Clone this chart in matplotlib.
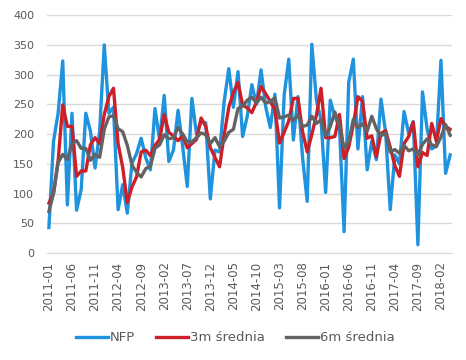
import matplotlib
matplotlib.use("Agg")
import matplotlib.pyplot as plt
import pandas as pd

# Monthly data 2011-01 .. 2018-04 (thousands)
months = pd.period_range("2011-01", "2018-04", freq="M").strftime("%Y-%m").tolist()

nfp = [43, 188, 235, 323, 81, 235, 72, 107, 235, 205, 143, 205,
       350, 235, 245, 73, 115, 67, 151, 167, 193, 160, 140, 243,
       190, 265, 154, 173, 240, 179, 112, 260, 200, 221, 219, 91,
       173, 170, 255, 310, 245, 305, 196, 230, 283, 250, 308, 246,
       211, 267, 76, 265, 326, 190, 263, 160, 87, 351, 257, 224,
       102, 257, 229, 212, 36, 287, 326, 175, 263, 140, 188, 157,
       259, 203, 73, 165, 150, 238, 201, 221, 14, 271, 208, 175,
       180, 324, 134, 165]

avg3 = [84, 101, 155, 249, 213, 213, 129, 138, 138, 182, 194, 184,
        233, 263, 277, 184, 144, 85, 111, 128, 170, 173, 164, 181,
        191, 233, 203, 197, 189, 197, 177, 184, 191, 227, 213, 177,
        161, 145, 199, 245, 270, 287, 249, 244, 236, 254, 280, 268,
        255, 241, 185, 203, 222, 260, 260, 204, 170, 199, 232, 277,
        194, 194, 196, 233, 159, 178, 216, 263, 255, 193, 197, 162,
        201, 206, 178, 147, 129, 184, 196, 220, 145, 169, 164, 218,
        188, 226, 213, 208]

avg6 = [70, 100, 152, 166, 157, 184, 189, 176, 176, 156, 166, 161,
        208, 229, 231, 209, 204, 181, 148, 136, 128, 142, 146, 176,
        182, 199, 192, 194, 211, 200, 187, 187, 194, 202, 199, 184,
        194, 179, 188, 203, 208, 243, 247, 257, 262, 252, 262, 252,
        255, 261, 227, 229, 232, 223, 232, 213, 215, 230, 218, 224,
        197, 213, 237, 214, 177, 187, 225, 211, 217, 205, 230, 209,
        197, 202, 170, 174, 168, 181, 172, 175, 165, 183, 192, 182,
        179, 195, 216, 198]

series_names = ["NFP", "3m średnia", "6m średnia"]
colors = ["#1F93DE", "#CC1F27", "#636363"]
yticks = [0, 50, 100, 150, 200, 250, 300, 350, 400]

fig = plt.figure(figsize=(4.66, 3.60), dpi=100)
ax = fig.add_axes([0.100, 0.297, 0.871, 0.661])

x = list(range(len(months)))
for vals, name, c in zip([nfp, avg3, avg6], series_names, colors):
    ax.plot(x, vals, color=c, lw=2.4, label=name, solid_joinstyle="round")

ax.set_xlim(-0.5, len(months) - 0.5)
ax.set_ylim(0, 400)
ax.set_yticks(yticks)
ax.set_yticklabels([str(v) for v in yticks])
tick_pos = x[::5]
ax.set_xticks(tick_pos)
ax.set_xticklabels([months[i] for i in tick_pos], rotation=90)

ax.grid(axis="y", color="#D9D9D9", lw=1.0)
ax.set_axisbelow(True)
for s in ["top", "right", "left"]:
    ax.spines[s].set_visible(False)
ax.spines["bottom"].set_color("#D9D9D9")
ax.tick_params(axis="both", length=0, colors="#595959", labelsize=8)
ax.tick_params(axis="x", pad=6, labelsize=8.5)
ax.tick_params(axis="y", pad=9)

leg = fig.legend(loc="center", bbox_to_anchor=(0.505, 0.062), ncol=3, frameon=False,
                 fontsize=9.5, handlelength=2.4, handletextpad=0.15, columnspacing=1.6)
for t in leg.get_texts():
    t.set_color("#595959")

fig.savefig("out.png", dpi=100)
